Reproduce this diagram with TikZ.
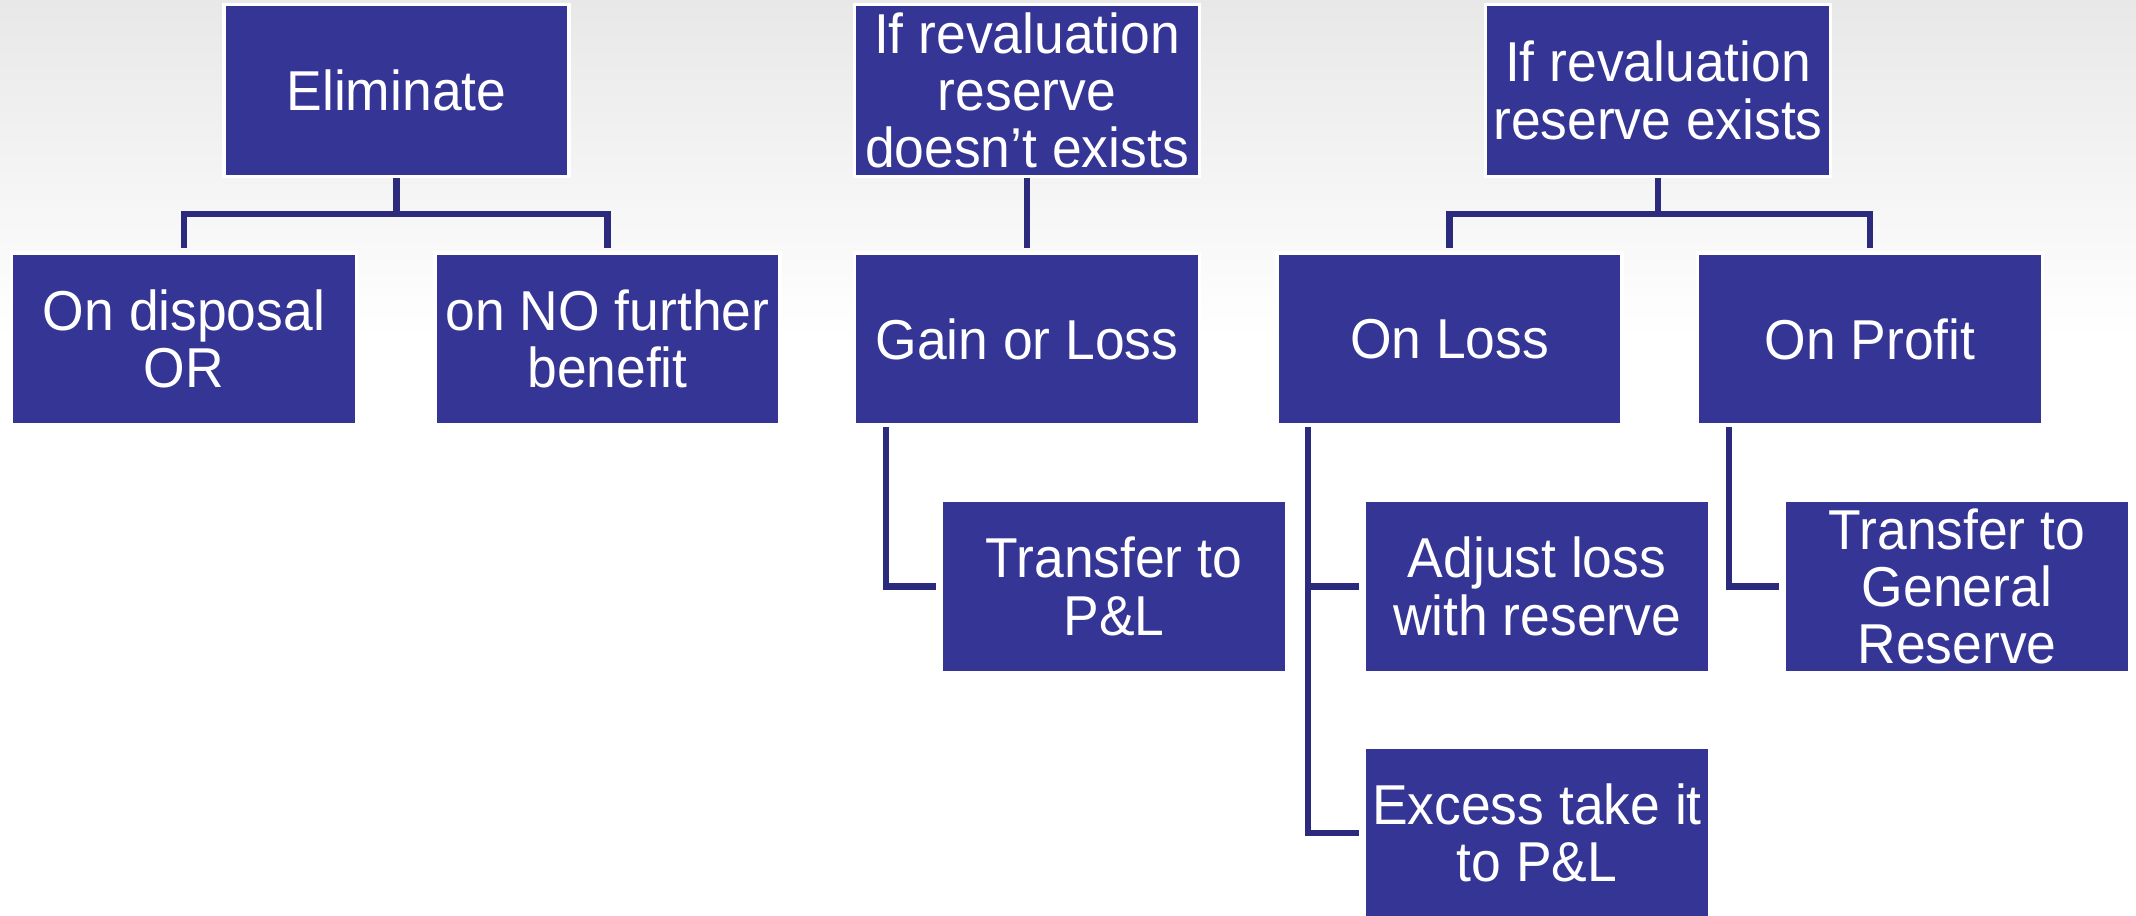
\documentclass[tikz,border=0pt]{standalone}
\usepackage{fontspec}
\setmainfont[FakeStretch=0.95]{Liberation Sans}
\definecolor{boxblue}{HTML}{353595}
\definecolor{linkblue}{HTML}{2B2A7C}
\begin{document}
\begin{tikzpicture}
\tikzset{
    box/.style={draw=white, line width=1pt, fill=boxblue, text=white,
        minimum width=3.45cm, minimum height=1.72cm, inner sep=0pt, align=center,
        font=\fontsize{16}{16.3}\selectfont},
    link/.style={line width=1.8pt, color=linkblue, shorten >=1pt}}
\def\dx{.33cm}
\def\drop{.36}

\useasboundingbox (0,0) rectangle (21.36,-9.16);
\fill[white] (0,0) rectangle (21.36,-9.16);
\shade[top color=black!9, bottom color=white] (0,0) rectangle (21.36,-3.4);

\node[box] (elim) at (3.965,-0.905) {Eliminate};
\node[box] (disp) at (1.84,-3.39) {On disposal\\OR};
\node[box] (nofb) at (6.075,-3.39) {on NO further\\benefit};

\node[box] (revno) at (10.27,-0.905) {If revaluation\\reserve\\doesn’t exists};
\node[box] (gain) at (10.27,-3.39) {Gain or Loss};
\node[box] (tpl) at (11.14,-5.865) {Transfer to\\P\&L};

\node[box] (revyes) at (16.58,-0.905) {If revaluation\\reserve exists};
\node[box] (loss) at (14.495,-3.39) {On Loss};
\node[box] (profit) at (18.70,-3.39) {On Profit};
\node[box] (adj) at (15.37,-5.865) {Adjust loss\\with reserve};
\node[box] (tgr) at (19.57,-5.865) {Transfer to\\General\\Reserve};
\node[box] (excess) at (15.37,-8.33) {Excess take it\\to P\&L};

\draw[link] (elim.south) -- ++(0,-\drop) coordinate (eb) -| (disp.north);
\draw[link] (eb) -| (nofb.north);
\draw[link] (revno.south) -- (gain.north);
\draw[link] (revyes.south) -- ++(0,-\drop) coordinate (rb) -| (loss.north);
\draw[link] (rb) -| (profit.north);

\draw[link] ([xshift=\dx]gain.south west) |- (tpl.west);
\draw[link] ([xshift=\dx]loss.south west) |- (adj.west);
\draw[link] ([xshift=\dx]loss.south west) |- (excess.west);
\draw[link] ([xshift=\dx]profit.south west) |- (tgr.west);
\end{tikzpicture}
\end{document}
